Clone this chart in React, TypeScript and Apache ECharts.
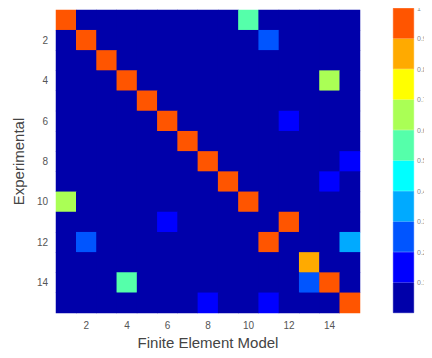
import React, { useEffect, useRef } from "react";
import * as echarts from "echarts";

const categories = ["1","2","3","4","5","6","7","8","9","10","11","12","13","14","15"];
const background = 0.05;
// [row, col, value] (1-based, row = Experimental, col = Finite Element Model)
const highlights: [number, number, number][] = [
  [1, 1, 0.95], [1, 10, 0.55],
  [2, 2, 0.95], [2, 11, 0.25],
  [3, 3, 0.95],
  [4, 4, 0.95], [4, 14, 0.65],
  [5, 5, 0.95],
  [6, 6, 0.95], [6, 12, 0.15],
  [7, 7, 0.95],
  [8, 8, 0.95], [8, 15, 0.15],
  [9, 9, 0.95], [9, 14, 0.15],
  [10, 10, 0.95], [10, 1, 0.65],
  [11, 12, 0.95], [11, 6, 0.15],
  [12, 11, 0.95], [12, 2, 0.25], [12, 15, 0.35],
  [13, 13, 0.85],
  [14, 14, 0.95], [14, 13, 0.25], [14, 4, 0.55],
  [15, 15, 0.95], [15, 8, 0.15], [15, 11, 0.15],
];
const jetColors = [
  "#0000aa", "#0000ff", "#0055ff", "#00aaff", "#00ffff",
  "#55ffaa", "#aaff55", "#ffff00", "#ffaa00", "#ff5500",
];
const levelStep = 0.1;

export default function App() {
  const ref = useRef<HTMLDivElement>(null);
  useEffect(() => {
    if (!ref.current) return;
    const chart = echarts.init(ref.current, undefined, { renderer: "svg" });
    const matrix: number[][] = categories.map(() => categories.map(() => background));
    highlights.forEach(([r, c, v]) => { matrix[r - 1][c - 1] = v; });
    const data: [number, number, number][] = [];
    matrix.forEach((row, ri) => row.forEach((v, ci) => data.push([ci, ri, v])));

    const font = "Liberation Sans, Arial, sans-serif";
    const colorbarSeries = jetColors.map((c) => ({
      type: "bar" as const,
      xAxisIndex: 1,
      yAxisIndex: 1,
      stack: "cb",
      barWidth: "100%",
      data: [levelStep],
      itemStyle: { color: c, borderColor: c, borderWidth: 0.6 },
      silent: true,
    }));

    chart.setOption({
      animation: false,
      backgroundColor: "#ffffff",
      grid: [
        { left: 56, top: 10, width: 304, height: 303, show: true, backgroundColor: jetColors[0], borderWidth: 0 },
        { left: 393, top: 8, width: 21, height: 305 },
      ],
      xAxis: [
        {
          type: "category",
          data: categories,
          gridIndex: 0,
          axisLine: { show: false },
          axisTick: { show: false },
          splitLine: { show: false },
          axisLabel: {
            interval: (i: number) => i % 2 === 1,
            color: "#555",
            fontSize: 10,
            fontFamily: font,
            margin: 7,
          },
          name: "Finite Element Model",
          nameLocation: "middle",
          nameGap: 22,
          nameTextStyle: { color: "#444", fontSize: 15, fontFamily: font },
        },
        {
          type: "category",
          data: ["cb"],
          gridIndex: 1,
          show: false,
        },
      ],
      yAxis: [
        {
          type: "category",
          data: categories,
          gridIndex: 0,
          inverse: true,
          axisLine: { show: false },
          axisTick: { show: false },
          splitLine: { show: false },
          axisLabel: {
            interval: (i: number) => i % 2 === 1,
            color: "#555",
            fontSize: 10,
            fontFamily: font,
            margin: 8,
          },
          name: "Experimental",
          nameLocation: "middle",
          nameGap: 28,
          nameTextStyle: { color: "#444", fontSize: 15, fontFamily: font },
        },
        {
          type: "value",
          gridIndex: 1,
          min: 0,
          max: 1,
          interval: 0.1,
          position: "right",
          axisLine: { show: false },
          axisTick: { show: false },
          splitLine: { show: false },
          axisLabel: {
            color: "#888",
            fontSize: 7,
            fontFamily: font,
            margin: 3,
            formatter: (v: number) => (v === 0 ? "" : String(Math.round(v * 10) / 10)),
          },
        },
      ],
      visualMap: {
        type: "piecewise",
        show: false,
        seriesIndex: 0,
        dimension: 2,
        pieces: jetColors.map((c, i) => ({
          gte: i * levelStep,
          lt: (i + 1) * levelStep + (i === jetColors.length - 1 ? 0.001 : 0),
          color: c,
        })),
      },
      series: [
        {
          type: "heatmap",
          xAxisIndex: 0,
          yAxisIndex: 0,
          data,
          itemStyle: { borderWidth: 0 },
          silent: true,
        },
        ...colorbarSeries,
      ],
    });
    return () => chart.dispose();
  }, []);
  return <div ref={ref} style={{ width: 432, height: 358, margin: -8 }} />;
}
